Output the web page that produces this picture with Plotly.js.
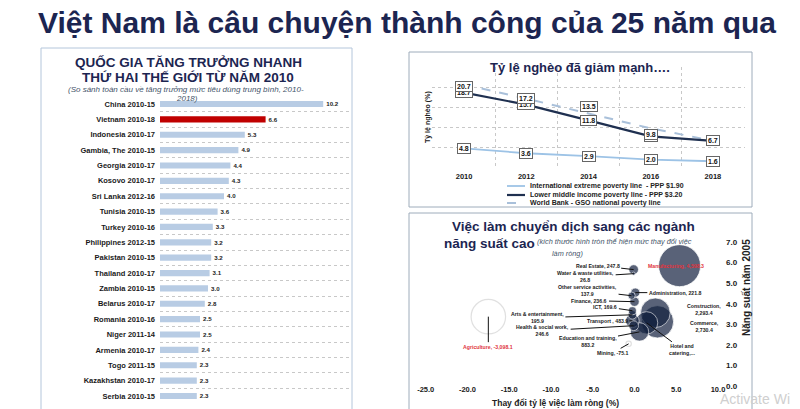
<!DOCTYPE html>
<html><head><meta charset="utf-8">
<script src="https://cdn.plot.ly/plotly-3.0.1.min.js"></script>
<style>html,body{margin:0;padding:0;background:#fff}#c{width:800px;height:409px}</style>
</head><body><div id="c"></div>
<script>
// ---------- Panel 1: consumption growth ----------
const countries = ["China 2010-15","Vietnam 2010-18","Indonesia 2010-17","Gambia, The 2010-15","Georgia 2010-17","Kosovo 2010-17","Sri Lanka 2012-16","Tunisia 2010-15","Turkey 2010-16","Philippines 2012-15","Pakistan 2010-15","Thailand 2010-17","Zambia 2010-15","Belarus 2010-17","Romania 2010-16","Niger 2011-14","Armenia 2010-17","Togo 2011-15","Kazakhstan 2010-17","Serbia 2010-15"];
const growth = [10.2,6.6,5.3,4.9,4.4,4.3,4.0,3.6,3.3,3.2,3.2,3.1,3.0,2.8,2.5,2.5,2.4,2.3,2.3,2.3];

// ---------- Panel 2: poverty rates ----------
const years = [2010,2012,2014,2016,2018];
const yearLabels = ["2010","2012","2014","2016","2018"];
const extremePoverty = [4.8,3.6,2.9,2.0,1.6];
const lowerMiddlePoverty = [18.7,15.7,11.8,7.8,6.7];
const nationalPoverty = [20.7,17.2,13.5,9.8,6.7];
const povertySeriesNames = ["International extreme poverty line  - PPP $1.90","Lower middle income poverty line - PPP $3.20","World Bank - GSO national poverty line"];

// ---------- Panel 3: employment shift ----------
const sectors = ["Agriculture","Manufacturing","Commerce","Construction","Hotel and catering","Education and training","Transport","Real Estate","Health & social work","Finance","Administration","Arts & entertainment","ICT","Other service activities","Mining","Water & waste utilities"];
const sectorLabels = ["Agriculture, -3,098.1","Manufacturing, 4,598.3","Commerce,<br>2,730.4","Construction,<br>2,293.4","Hotel and<br>catering,...","Education and training,<br>883.2","Transport , 483.9","Real Estate, 247.8","Health & social work,<br>246.6","Finance, 236.6","Administration, 221.8","Arts & entertainment,<br>195.9","ICT, 169.6","Other service activities,<br>137.9","Mining, -75.1","Water & waste utilities,<br>26.8"];
const netJobChange = [-3098.1,4598.3,2730.4,2293.4,1300,883.2,483.9,247.8,246.6,236.6,221.8,195.9,169.6,137.9,-75.1,26.8];
const employmentShareChange = [-17.5,5.4,2.75,2.5,1.45,0.6,-0.25,-0.1,-0.1,0.0,0.1,-0.25,-0.25,-0.35,-0.7,-0.1];
const productivity2005 = [3.37,5.85,3.12,3.56,3.07,2.63,3.17,5.66,2.93,4.1,4.54,3.46,3.66,4.39,2.05,5.46];
const bubbleXTicks = [-25,-20,-15,-10,-5,0,5,10];
const bubbleXTickText = ["-25.0","-20.0","-15.0","-10.0","-5.0","0.0","5.0","10.0"];

// ---------- styling / layout helpers ----------
const W = 800, H = 409;
const fx = p => p / W, fy = p => 1 - p / H;
const FONT = "Liberation Sans, Arial, sans-serif";
const NAVY = "#1c2551";
const B = (size, color, extra) => Object.assign({family: FONT, size: size, color: color || "#1a1a1a", weight: "bold"}, extra || {});

// label placement for bubbles (pixel offsets), same order as sectors
const bubbleLabelStyle = [
  {ax:0, ay:30, arrow:true, color:"#e0333c"},
  {xs:-4, ys:0, arrow:false, color:"#e0333c"},
  {xs:47, ys:-5, arrow:false},
  {xs:49, ys:3, arrow:false},
  {ax:36, ay:27, arrow:true},
  {ax:-52, ay:10, arrow:true},
  {ax:-25, ay:0, arrow:true},
  {ax:-36, ay:-4, arrow:true},
  {ax:-91, ay:5, arrow:true},
  {ax:-45, ay:-1, arrow:true},
  {ax:40, ay:0, arrow:true},
  {ax:-95, ay:3, arrow:true},
  {ax:-27, ay:-4, arrow:true},
  {ax:-44, ay:-5, arrow:true},
  {ax:-16, ay:9, arrow:true},
  {ax:-48, ay:3, arrow:true}
];
// y-shift of the boxed value labels per series
const nationalLabelShift = [-2,0,7,-6,0];

const traces = [];

// bars
traces.push({
  type:"bar", orientation:"h", x: growth, y: countries, xaxis:"x", yaxis:"y",
  marker:{color: countries.map(c => c.indexOf("Vietnam") === 0 ? "#c00000" : "#b8cce4")},
  text: growth.map(v => v.toFixed(1)), textposition:"outside", cliponaxis:false,
  textfont: B(7, "#222"), hoverinfo:"none", showlegend:false
});

// poverty lines
const povColors = ["#9dc3e6","#1f3050","#a9c0da"];
const povData = [extremePoverty, lowerMiddlePoverty, nationalPoverty];
const povDash = ["solid","solid","dash"];
const povWidth = [1.8,2.2,2];
[2,0,1].forEach(i => {
  traces.push({type:"scatter", mode:"lines", x: years, y: povData[i], xaxis:"x2", yaxis:"y2",
    line:{color: povColors[i], width: povWidth[i], dash: povDash[i]}, name: povertySeriesNames[i],
    hoverinfo:"none", showlegend:false});
});

// bubbles (largest drawn first)
const order = sectors.map((s,i)=>i).sort((a,b)=>Math.abs(netJobChange[b])-Math.abs(netJobChange[a]));
const maxAbs = Math.max(...netJobChange.map(Math.abs));
traces.push({
  type:"scatter", mode:"markers", xaxis:"x3", yaxis:"y3",
  x: order.map(i=>employmentShareChange[i]), y: order.map(i=>productivity2005[i]),
  marker:{
    size: order.map(i=>Math.abs(netJobChange[i])), sizemode:"area", sizeref: 2*maxAbs/(42*42),
    color: order.map(i=> netJobChange[i] < 0 ? "rgba(255,255,255,0)" : "#13213f"),
    line:{color: order.map(i=> netJobChange[i] < 0 ? "#d4d4d4" : "#ffffff"), width: order.map(i=> netJobChange[i] < 0 ? 1.2 : 0.8)}
  },
  cliponaxis:false, hoverinfo:"none", showlegend:false
});

const annotations = [];
const shapes = [];
const txt = (text, px, py, font, opts) => annotations.push(Object.assign({
  text: text, xref:"paper", yref:"paper", x: fx(px), y: fy(py), showarrow:false,
  xanchor:"center", yanchor:"middle", font: font}, opts || {}));

// main title
txt("Việt Nam là câu chuyện thành công của 25 năm qua", 407, 22, B(30, NAVY));
// panel 1 titles
txt("QUỐC GIA TĂNG TRƯỞNG NHANH", 188, 62, B(13.5, NAVY));
txt("THỨ HAI THẾ GIỚI TỪ NĂM 2010", 188, 77, B(13.5, NAVY));
txt("(So sánh toàn cầu về tăng trưởng mức tiêu dùng trung bình, 2010-", 186, 89.5, {family:FONT, size:8, color:"#44546a", style:"italic"});
txt("2018)", 187, 98, {family:FONT, size:8, color:"#44546a", style:"italic"});
// panel 2 titles
txt("Tỷ lệ nghèo đã giảm mạnh….", 580, 67, B(13, NAVY));
txt("Tỷ lệ nghèo (%)", 428, 117, B(7, "#222"), {textangle:-90});
// panel 3 titles
txt("Việc làm chuyển dịch sang các ngành", 573, 227, B(13.5, NAVY));
txt("năng suất cao", 442, 243, B(13.5, NAVY), {xanchor:"left"});
txt("(kích thước hình tròn thể hiện mức thay đổi việc", 535, 242, {family:FONT, size:7.3, color:"#44546a", style:"italic"}, {xanchor:"left"});
txt("làm ròng)", 567, 253, {family:FONT, size:7.3, color:"#44546a", style:"italic"});
txt("Năng suất năm 2005", 746, 288, B(10, "#222"), {textangle:-90});
txt("Thay đổi tỷ lệ việc làm ròng (%)", 555, 403, B(8.5, "#222"));
// watermark
txt("Activate Wi", 718, 399, {family:FONT, size:14, color:"#cfcfcf"}, {xanchor:"left"});

// legend (manual)
const legY = [186,195,203];
[0,1,2].forEach(i => {
  shapes.push({type:"line", xref:"paper", yref:"paper", x0:fx(507), x1:fx(525), y0:fy(legY[i]), y1:fy(legY[i]),
    line:{color: povColors[i], width: povWidth[i], dash: povDash[i]}});
  txt(povertySeriesNames[i], 528, legY[i], B(7, "#222"), {xanchor:"left"});
});

// boxed value labels
const boxLabel = (x, y, shift) => annotations.push({
  text: y.toFixed(1), x: x, y: y, xref:"x2", yref:"y2", showarrow:false, yshift: shift,
  bgcolor:"#ffffff", bordercolor:"#666", borderwidth:1, borderpad:1, font: B(7, "#111")});
years.forEach((yr,i)=> boxLabel(yr, extremePoverty[i], 0));
years.forEach((yr,i)=> boxLabel(yr, lowerMiddlePoverty[i], 0));
years.forEach((yr,i)=> boxLabel(yr, nationalPoverty[i], nationalLabelShift[i]));

// bubble labels
sectors.forEach((s,i) => {
  const st = bubbleLabelStyle[i];
  const a = {text: sectorLabels[i], x: employmentShareChange[i], y: productivity2005[i], xref:"x3", yref:"y3",
    font: B(5.2, st.color || "#1a1a1a"), align:"center"};
  if (st.arrow) {
    Object.assign(a, {showarrow:true, arrowhead:0, arrowwidth:1, arrowcolor:"#111", ax: st.ax, ay: st.ay, axref:"pixel", ayref:"pixel"});
  } else {
    Object.assign(a, {showarrow:false, xshift: st.xs, yshift: st.ys});
  }
  annotations.push(a);
});

// panel borders
shapes.push({type:"rect", xref:"paper", yref:"paper", x0:fx(41), x1:fx(352), y0:-0.02, y1:fy(48), line:{color:"#b4c6db", width:1}});
shapes.push({type:"rect", xref:"paper", yref:"paper", x0:fx(409), x1:fx(752), y0:fy(207), y1:fy(52), line:{color:"#9eacbb", width:1}});
shapes.push({type:"rect", xref:"paper", yref:"paper", x0:fx(409), x1:fx(752), y0:-0.02, y1:fy(213), line:{color:"#9eacbb", width:1}});

const layout = {
  width: W, height: H, margin:{l:0,r:0,t:0,b:0}, paper_bgcolor:"#fff", plot_bgcolor:"rgba(0,0,0,0)",
  showlegend:false, bargap:0.6, font:{family:FONT},
  xaxis:{domain:[fx(160), fx(350)], range:[0,11.875], showgrid:false, zeroline:false, showticklabels:false, fixedrange:true},
  yaxis:{domain:[fy(403.7), fy(96.3)], type:"category", autorange:"reversed", tickson:"boundaries",
    showgrid:true, gridcolor:"#c8c8c8", griddash:"dot", gridwidth:1, ticks:"", tickfont:B(7.5,"#1a1a1a"), ticklabelstandoff:4},
  xaxis2:{domain:[fx(432), fx(745)], range:[2008.97, 2019.03], anchor:"y2", tickvals: years, ticktext: yearLabels,
    showgrid:false, zeroline:false, ticks:"", tickfont:B(7.5,"#1a1a1a"), ticklabelstandoff:2,
    minor:{tickmode:"array", tickvals:[2009,2011,2013,2015,2017,2019], showgrid:true, gridcolor:"#c8c8c8", griddash:"dot", gridwidth:1, ticks:""}},
  yaxis2:{domain:[fy(168), fy(67)], range:[-0.08,25.08], anchor:"x2", tick0:0, dtick:5, showgrid:true, gridcolor:"#c8c8c8",
    griddash:"dot", gridwidth:1, zeroline:false, showticklabels:false, ticks:""},
  xaxis3:{domain:[fx(425.7), fx(718)], range:[-25,10], anchor:"y3", tickvals: bubbleXTicks, ticktext: bubbleXTickText,
    showgrid:false, zeroline:false, ticks:"", tickfont:B(7.5,"#1a1a1a"), ticklabelstandoff:-3},
  yaxis3:{domain:[fy(386), fy(242)], range:[0,7], anchor:"x3", side:"right", dtick:1, tickformat:".1f",
    showgrid:false, zeroline:false, ticks:"", tickfont:B(8,"#1a1a1a"), ticklabelstandoff:7},
  annotations: annotations, shapes: shapes
};

Plotly.newPlot("c", traces, layout, {staticPlot:true, displayModeBar:false});
</script>
</body></html>
